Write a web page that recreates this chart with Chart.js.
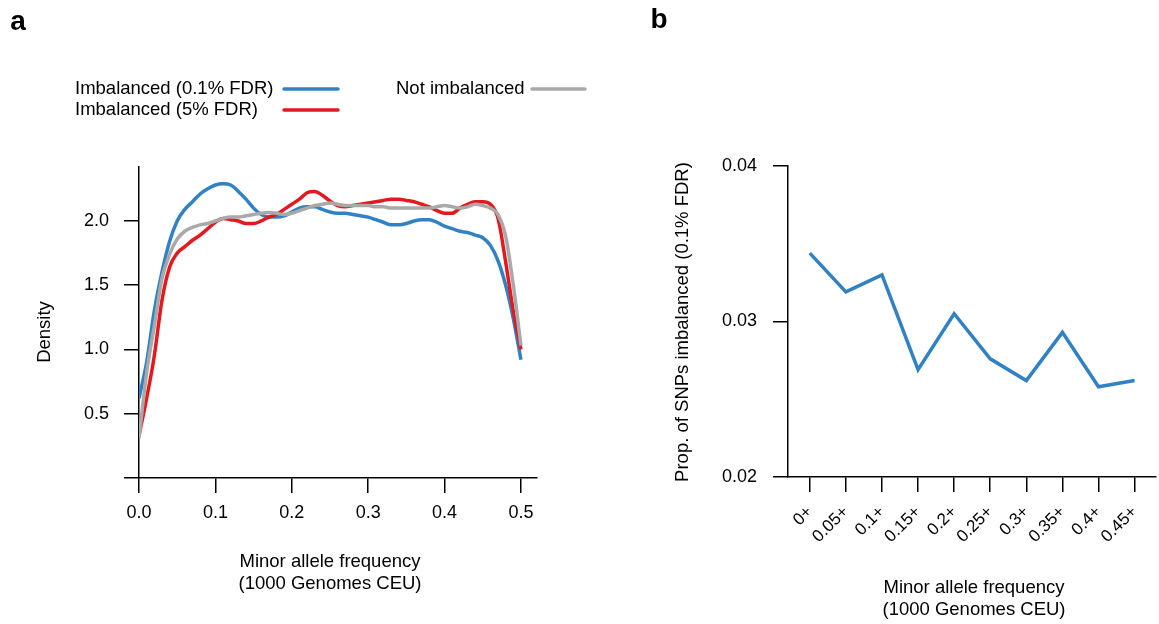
<!DOCTYPE html>
<html>
<head>
<meta charset="utf-8">
<script src="https://cdn.jsdelivr.net/npm/chart.js@4.4.1/dist/chart.umd.min.js"></script>
<style>
  html, body { margin: 0; padding: 0; background: #fff; }
  #wrap { position: relative; width: 1159px; height: 624px; overflow: hidden; }
  .panel { position: absolute; top: 0; height: 624px; }
  #panelA { left: 0; width: 600px; }
  #panelB { left: 600px; width: 559px; }
</style>
</head>
<body>
<div id="wrap">
  <div class="panel" id="panelA"><canvas id="densityChart"></canvas></div>
  <div class="panel" id="panelB"><canvas id="propChart"></canvas></div>
</div>
<script>
// panel a: density of minor allele frequency
var mafGrid = [0.00, 0.01, 0.02, 0.03, 0.04, 0.05, 0.06, 0.07, 0.08, 0.09,
               0.10, 0.11, 0.12, 0.13, 0.14, 0.15, 0.16, 0.17, 0.18, 0.19,
               0.20, 0.21, 0.22, 0.23, 0.24, 0.25, 0.26, 0.27, 0.28, 0.29,
               0.30, 0.31, 0.32, 0.33, 0.34, 0.35, 0.36, 0.37, 0.38, 0.39,
               0.40, 0.41, 0.42, 0.43, 0.44, 0.45, 0.46, 0.47, 0.48, 0.49, 0.50];
var densImb01 = [0.62, 0.90, 1.30, 1.60, 1.84, 2.00, 2.09, 2.15, 2.21, 2.25,
                 2.28, 2.29, 2.28, 2.23, 2.17, 2.10, 2.05, 2.03, 2.03, 2.04,
                 2.07, 2.10, 2.11, 2.11, 2.09, 2.07, 2.06, 2.06, 2.05, 2.04,
                 2.03, 2.01, 1.99, 1.97, 1.97, 1.98, 2.00, 2.01, 2.01, 1.99,
                 1.96, 1.94, 1.92, 1.91, 1.89, 1.87, 1.81, 1.69, 1.50, 1.24, 0.92];
var densImb5 = [0.33, 0.62, 0.95, 1.38, 1.64, 1.75, 1.80, 1.85, 1.89, 1.94,
                1.99, 2.02, 2.01, 2.00, 1.98, 1.98, 2.00, 2.03, 2.05, 2.09,
                2.13, 2.17, 2.22, 2.23, 2.20, 2.155, 2.12, 2.11, 2.12, 2.13,
                2.14, 2.15, 2.16, 2.17, 2.17, 2.16, 2.15, 2.13, 2.11, 2.08,
                2.06, 2.06, 2.10, 2.13, 2.15, 2.15, 2.13, 2.02, 1.68, 1.30, 1.00];
var densNotImb = [0.31, 0.82, 1.18, 1.55, 1.74, 1.86, 1.92, 1.95, 1.97, 1.98,
                  2.00, 2.02, 2.03, 2.03, 2.04, 2.05, 2.06, 2.065, 2.06, 2.05,
                  2.06, 2.08, 2.10, 2.12, 2.13, 2.14, 2.13, 2.12, 2.12, 2.12,
                  2.12, 2.11, 2.11, 2.10, 2.10, 2.10, 2.10, 2.10, 2.10, 2.11,
                  2.12, 2.11, 2.10, 2.11, 2.13, 2.12, 2.10, 2.05, 1.88, 1.50, 1.03];
var densityTicks = [0, 0.5, 1.0, 1.5, 2.0];
var mafTicks = [0, 0.1, 0.2, 0.3, 0.4, 0.5];

// panel b: proportion of SNPs imbalanced per MAF bin
var mafBins = ['0+', '0.05+', '0.1+', '0.15+', '0.2+', '0.25+', '0.3+', '0.35+', '0.4+', '0.45+'];
var propImbalanced = [0.0344, 0.0319, 0.0330, 0.0269, 0.0305, 0.0276, 0.0262, 0.0293, 0.0258, 0.0262];
var propTicks = [0.02, 0.03, 0.04];

var FONT = '"Liberation Sans", Arial, Helvetica, sans-serif';
var BLUE = '#3182c4', RED = '#e4191f', GREY = '#a9a9a9';

function xy(xs, ys) {
  return ys.map(function (v, i) { return {x: xs[i], y: v}; });
}

function fixTicks(values) {
  return function (scale) {
    scale.ticks = values.map(function (v) { return {value: v}; });
  };
}

// extra text (panel letters, axis titles, legend) drawn on top of the chart
function textPlugin(items, legend) {
  return {
    id: 'panelText',
    afterDraw: function (chart) {
      var ctx = chart.ctx;
      ctx.save();
      ctx.fillStyle = '#000';
      items.forEach(function (t) {
        ctx.save();
        ctx.font = (t.bold ? 'bold ' : '') + t.size + 'px ' + FONT;
        ctx.textAlign = t.align || 'center';
        ctx.textBaseline = 'middle';
        ctx.translate(t.x, t.y);
        if (t.rotate) ctx.rotate(t.rotate);
        ctx.fillText(t.text, 0, 0);
        ctx.restore();
      });
      (legend || []).forEach(function (l) {
        var ds = chart.data.datasets[l.ds];
        ctx.font = '18.5px ' + FONT;
        ctx.textAlign = 'left';
        ctx.textBaseline = 'middle';
        ctx.fillText(ds.label, l.tx, l.y);
        ctx.strokeStyle = ds.borderColor;
        ctx.lineWidth = 3.5;
        ctx.lineCap = 'round';
        ctx.beginPath();
        ctx.moveTo(l.x1, l.y);
        ctx.lineTo(l.x2, l.y);
        ctx.stroke();
      });
      ctx.restore();
    }
  };
}

var axisGrid = {drawOnChartArea: false, drawTicks: true, tickLength: 15, color: '#000', lineWidth: 1.5};
var axisBorder = {display: true, color: '#000', width: 1.5};

new Chart(document.getElementById('densityChart'), {
  type: 'line',
  data: {
    datasets: [
      {label: 'Imbalanced (0.1% FDR)', data: xy(mafGrid, densImb01), borderColor: BLUE, order: 2},
      {label: 'Imbalanced (5% FDR)', data: xy(mafGrid, densImb5), borderColor: RED, order: 1},
      {label: 'Not imbalanced', data: xy(mafGrid, densNotImb), borderColor: GREY, order: 0}
    ]
  },
  options: {
    responsive: true,
    maintainAspectRatio: false,
    animation: false,
    layout: {padding: {left: 59, right: 63, top: 167, bottom: 86}},
    elements: {
      line: {borderWidth: 3.5, cubicInterpolationMode: 'monotone', fill: false},
      point: {radius: 0, hoverRadius: 0}
    },
    plugins: {legend: {display: false}, tooltip: {enabled: false}},
    scales: {
      x: {
        type: 'linear', min: 0, max: 0.521,
        afterBuildTicks: fixTicks(mafTicks),
        afterFit: function (s) { s.height = 60; },
        grid: axisGrid, border: axisBorder,
        ticks: {color: '#000', font: {family: FONT, size: 18}, padding: 9, maxRotation: 0,
                callback: function (v) { return v.toFixed(1); }}
      },
      y: {
        type: 'linear', min: 0, max: 2.42, position: 'left',
        afterBuildTicks: fixTicks(densityTicks),
        afterFit: function (s) { s.width = 80; },
        grid: axisGrid, border: axisBorder,
        ticks: {color: '#000', font: {family: FONT, size: 18}, padding: 15,
                callback: function (v) { return v === 0 ? '' : v.toFixed(1); }}
      }
    }
  },
  plugins: [textPlugin([
    {text: 'a', x: 18, y: 22, size: 28, bold: true},
    {text: 'Density', x: 45, y: 332, size: 18.5, rotate: -Math.PI / 2},
    {text: 'Minor allele frequency', x: 330, y: 562, size: 18.5},
    {text: '(1000 Genomes CEU)', x: 330, y: 584, size: 18.5}
  ], [
    {ds: 0, tx: 75, x1: 284, x2: 338, y: 89},
    {ds: 1, tx: 75, x1: 284, x2: 338, y: 110},
    {ds: 2, tx: 396, x1: 532, x2: 585, y: 89}
  ])]
});

new Chart(document.getElementById('propChart'), {
  type: 'line',
  data: {
    datasets: [
      {label: 'Prop. imbalanced', data: xy(mafBins.map(function (b, i) { return i; }), propImbalanced),
       borderColor: BLUE, borderWidth: 3.5, tension: 0, pointRadius: 0, pointHoverRadius: 0}
    ]
  },
  options: {
    responsive: true,
    maintainAspectRatio: false,
    animation: false,
    layout: {padding: {left: 108, right: 0, top: 166, bottom: 77}},
    plugins: {legend: {display: false}, tooltip: {enabled: false}},
    scales: {
      x: {
        type: 'linear', min: -0.604, max: 9.59,
        afterBuildTicks: fixTicks(mafBins.map(function (b, i) { return i; })),
        afterFit: function (s) { s.height = 70; },
        grid: axisGrid, border: axisBorder,
        ticks: {color: '#000', font: {family: FONT, size: 17}, padding: 10,
                autoSkip: false, minRotation: 45, maxRotation: 45,
                callback: function (v) { return mafBins[v]; }}
      },
      y: {
        type: 'linear', min: 0.02, max: 0.04, position: 'left',
        afterBuildTicks: fixTicks(propTicks),
        afterFit: function (s) { s.width = 80; },
        grid: axisGrid, border: axisBorder,
        ticks: {color: '#000', font: {family: FONT, size: 18}, padding: 16,
                callback: function (v) { return v.toFixed(2); }}
      }
    }
  },
  plugins: [textPlugin([
    {text: 'b', x: 59, y: 20, size: 28, bold: true},
    {text: 'Prop. of SNPs imbalanced (0.1% FDR)', x: 83, y: 322, size: 18.5, rotate: -Math.PI / 2},
    {text: 'Minor allele frequency', x: 374, y: 588, size: 18.5},
    {text: '(1000 Genomes CEU)', x: 374, y: 610, size: 18.5}
  ])]
});
</script>
</body>
</html>
